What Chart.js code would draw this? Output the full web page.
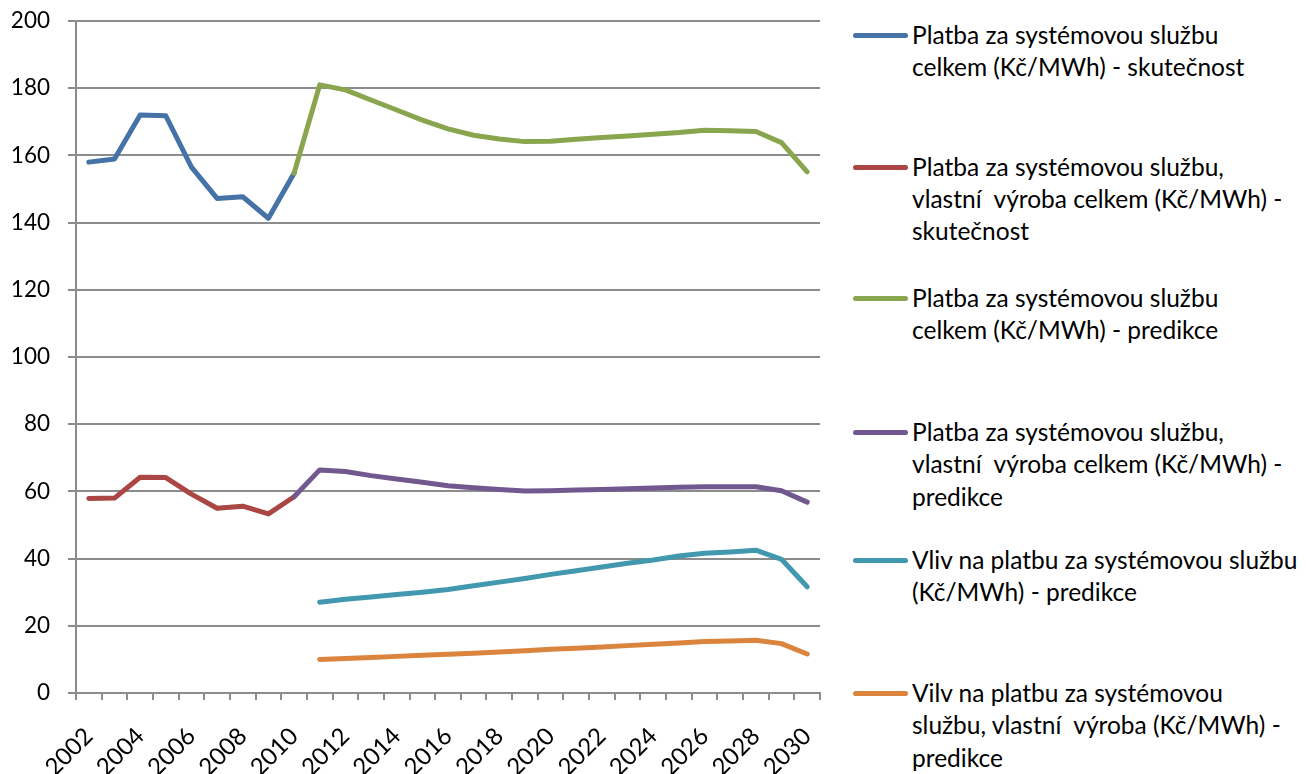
<!DOCTYPE html>
<html>
<head>
<meta charset="utf-8">
<script src="https://cdn.jsdelivr.net/npm/chart.js@4.4.1/dist/chart.umd.min.js"></script>
<style>
    body { margin: 0; background: #fff; }
    .wrap { position: relative; width: 1306px; height: 774px; }
    .chart_box { position: absolute; left: 0; top: 0; width: 840px; height: 774px; }
    .legend { position: absolute; left: 0; top: 0; font-family: Lato, sans-serif; font-size: 24.5px; color: #000; }
    .legend .item { position: absolute; left: 853px; line-height: 32.3px; white-space: pre; }
    .legend .mark { position: absolute; left: 0; top: 14px; width: 55px; height: 5px; border-radius: 3px; }
    .legend .txt { margin-left: 59px; }
</style>
</head>
<body>
<div class="wrap">
    <div class="chart_box"><canvas class="my_chart" width="840" height="774"></canvas></div>
    <div class="legend"></div>
</div>
<script>
// roky na ose x
let years = ["2002", "2003", "2004", "2005", "2006", "2007", "2008", "2009", "2010", "2011",
    "2012", "2013", "2014", "2015", "2016", "2017", "2018", "2019", "2020", "2021",
    "2022", "2023", "2024", "2025", "2026", "2027", "2028", "2029", "2030"]

let y_ticks = [0, 20, 40, 60, 80, 100, 120, 140, 160, 180, 200]

let s = null
// skutecnost 2002-2010
let celkem_skut = [158.0, 158.9, 172.0, 171.8, 156.5, 147.2, 147.7, 141.3, 154.7,
    s, s, s, s, s, s, s, s, s, s, s, s, s, s, s, s, s, s, s, s]
let vlastni_skut = [57.9, 58.0, 64.2, 64.1, 59.2, 55.0, 55.6, 53.3, 58.4,
    s, s, s, s, s, s, s, s, s, s, s, s, s, s, s, s, s, s, s, s]
// predikce 2010-2030
let celkem_pred = [s, s, s, s, s, s, s, s,
    154.7, 181.0, 179.5, 176.5, 173.5, 170.5, 167.9, 166.0, 164.9, 164.1, 164.2,
    164.8, 165.3, 165.8, 166.3, 166.8, 167.5, 167.3, 167.1, 163.8, 155.1]
let vlastni_pred = [s, s, s, s, s, s, s, s,
    58.4, 66.4, 65.9, 64.7, 63.7, 62.7, 61.7, 61.1, 60.6, 60.1, 60.2,
    60.4, 60.6, 60.8, 61.0, 61.2, 61.4, 61.4, 61.4, 60.2, 56.8]
let vliv_pred = [s, s, s, s, s, s, s, s, s,
    27.0, 27.9, 28.6, 29.3, 30.0, 30.8, 31.9, 33.0, 34.1, 35.3,
    36.4, 37.5, 38.6, 39.6, 40.8, 41.6, 42.0, 42.5, 39.8, 31.6]
let vilv_vlastni_pred = [s, s, s, s, s, s, s, s, s,
    10.0, 10.3, 10.6, 10.9, 11.2, 11.5, 11.8, 12.2, 12.6, 13.0,
    13.3, 13.7, 14.1, 14.5, 14.9, 15.3, 15.5, 15.7, 14.7, 11.6]

let series_names = [
    "Platba za systémovou službu\ncelkem (Kč/MWh) - skutečnost",
    "Platba za systémovou službu,\nvlastní  výroba celkem (Kč/MWh) -\nskutečnost",
    "Platba za systémovou službu\ncelkem (Kč/MWh) - predikce",
    "Platba za systémovou službu,\nvlastní  výroba celkem (Kč/MWh) -\npredikce",
    "Vliv na platbu za systémovou službu\n(Kč/MWh) - predikce",
    "Vilv na platbu za systémovou\nslužbu, vlastní  výroba (Kč/MWh) -\npredikce"
]
let series_data = [celkem_skut, vlastni_skut, celkem_pred, vlastni_pred, vliv_pred, vilv_vlastni_pred]
let colors = ["#4572A7", "#AA4643", "#89A54E", "#71588F", "#4198AF", "#DB843D"]

let grid_color = "#8c8c8c"
let font = { family: "Lato, sans-serif", size: 22.5 }
let x_font = { family: "Lato, sans-serif", size: 24 }

let my_chart = document.querySelector(".my_chart")
drow_chart()
drow_legend()

function drow_chart() {
    let datasets = []
    for (let i = 0; i < series_data.length; i++) {
        datasets.push({
            label: series_names[i],
            data: series_data[i],
            borderColor: colors[i],
            backgroundColor: colors[i],
            borderWidth: 5,
            borderCapStyle: "round",
            borderJoinStyle: "round",
            pointRadius: 0,
            tension: 0,
            order: series_data.length - i // pozdejsi serie navrch
        })
    }

    new Chart(my_chart, {
        type: "line",
        data: { labels: years, datasets: datasets },
        options: {
            responsive: false,
            animation: false,
            layout: { padding: { top: 21, right: 20, left: 0, bottom: 0 } },
            plugins: { legend: { display: false }, tooltip: { enabled: false } },
            scales: {
                x: {
                    offset: true,
                    grid: { offset: true, drawOnChartArea: false, tickLength: 7, color: grid_color, lineWidth: 2 },
                    border: { color: grid_color, width: 2 },
                    ticks: {
                        autoSkip: false, maxRotation: 45, minRotation: 45, padding: 22,
                        color: "#000", font: x_font,
                        callback: function (v, i) { return i % 2 === 0 ? years[i] : "" }
                    },
                    afterFit: function (scale) {
                        scale.height = 81
                        scale.paddingLeft = 0
                        scale.paddingRight = 0
                    }
                },
                y: {
                    min: 0, max: 200,
                    afterBuildTicks: function (scale) { scale.ticks = y_ticks.map(v => ({ value: v })) },
                    grid: { tickLength: 8, color: grid_color, lineWidth: 2 },
                    border: { color: grid_color, width: 2 },
                    ticks: { padding: 18, color: "#000", font: font },
                    afterFit: function (scale) {
                        scale.width = 76
                        scale.paddingTop = 0
                        scale.paddingBottom = 0
                    }
                }
            }
        }
    })
}

function drow_legend() {
    let box = document.querySelector(".legend")
    let tops = [35, 166.5, 298, 432, 560, 693]
    for (let i = 0; i < series_names.length; i++) {
        let item = document.createElement("div")
        item.className = "item"
        item.style.top = (tops[i] - 16) + "px"
        let mark = document.createElement("span")
        mark.className = "mark"
        mark.style.background = colors[i]
        let txt = document.createElement("div")
        txt.className = "txt"
        txt.textContent = series_names[i]
        item.appendChild(mark)
        item.appendChild(txt)
        box.appendChild(item)
    }
}
</script>
</body>
</html>
